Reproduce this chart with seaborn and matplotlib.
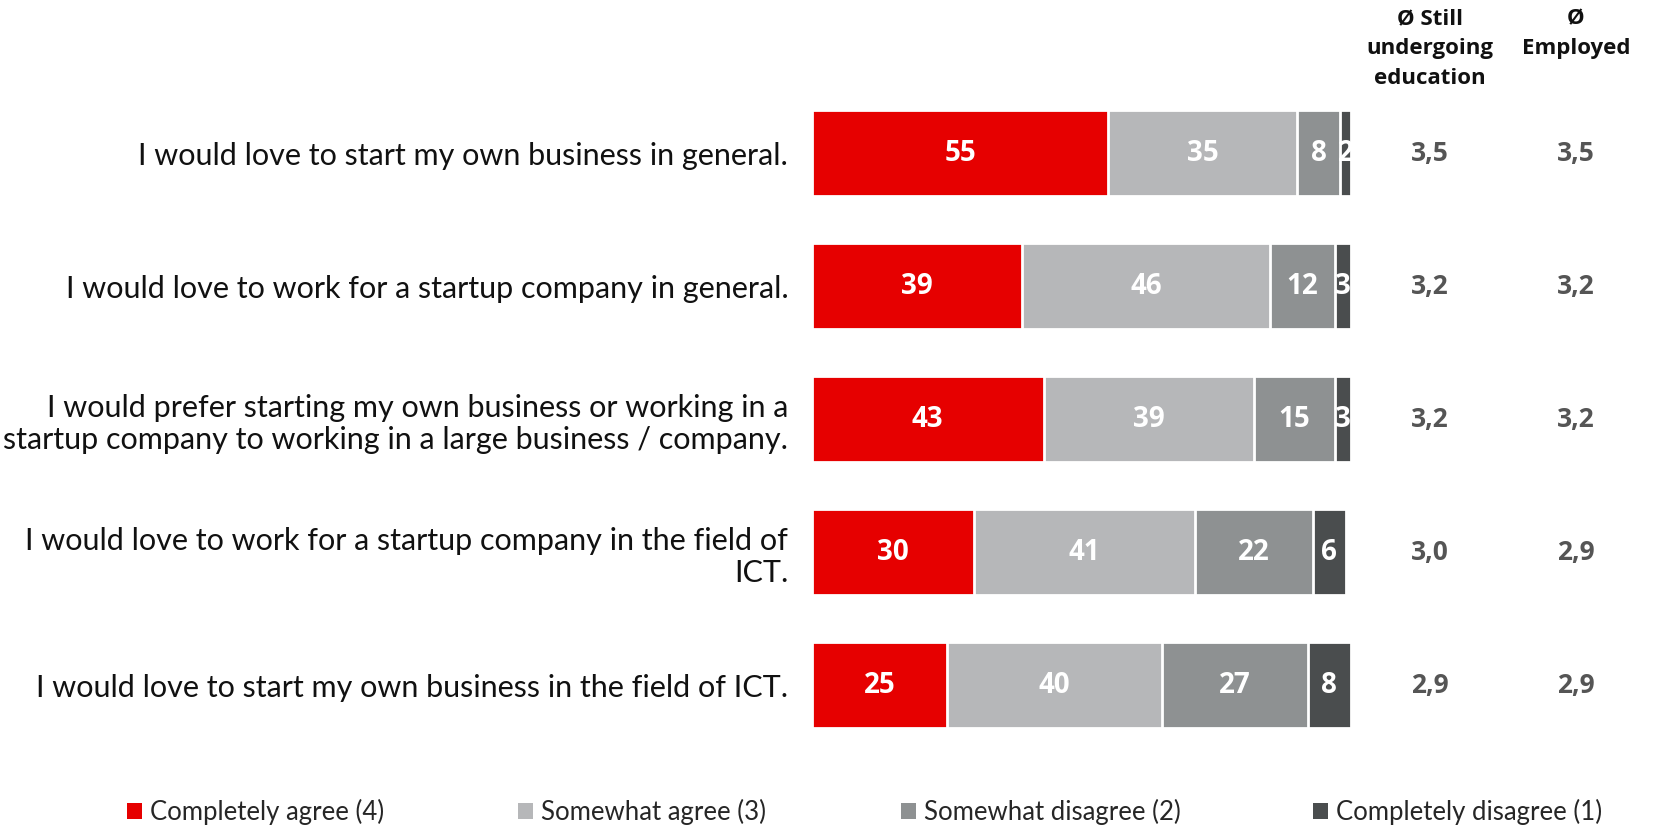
import numpy as np
import pandas as pd
import matplotlib
matplotlib.use("Agg")
import matplotlib.pyplot as plt
import matplotlib.transforms as mtransforms
from matplotlib import font_manager
from matplotlib.patches import Patch
import seaborn as sns

# ---- data ----
statements = [
    "I would love to start my own business in general.",
    "I would love to work for a startup company in general.",
    "I would prefer starting my own business or working in a\nstartup company to working in a large business / company.",
    "I would love to work for a startup company in the field of\nICT.",
    "I would love to start my own business in the field of ICT.",
]
categories = ["Completely agree (4)", "Somewhat agree (3)",
              "Somewhat disagree (2)", "Completely disagree (1)"]
completely_agree = [55, 39, 43, 30, 25]
somewhat_agree = [35, 46, 39, 41, 40]
somewhat_disagree = [8, 12, 15, 22, 27]
completely_disagree = [2, 3, 3, 6, 8]
avg_education = ["3,5", "3,2", "3,2", "3,0", "2,9"]
avg_employed = ["3,5", "3,2", "3,2", "2,9", "2,9"]
col_headers = ["Ø Still\nundergoing\neducation", "Ø\nEmployed"]

colors = ["#e60000", "#b6b7b9", "#8e9192", "#4a4d4e"]

# pick a narrow-ish font that is actually installed
installed = {f.name for f in font_manager.fontManager.ttflist}
text_font = "Lato"
for cand in ["Liberation Sans Narrow", "Lato", "Roboto"]:
    if cand in installed:
        text_font = cand
        break
bold_font = ["Open Sans", "DejaVu Sans"]

sns.set_theme(style="white")
plt.rcParams["font.family"] = [text_font, "DejaVu Sans"]

df = pd.DataFrame({
    "statement": statements,
    categories[0]: completely_agree,
    categories[1]: somewhat_agree,
    categories[2]: somewhat_disagree,
    categories[3]: completely_disagree,
})
series = [completely_agree, somewhat_agree, somewhat_disagree, completely_disagree]
cum = np.cumsum(np.array(series), axis=0)

fig = plt.figure(figsize=(16.58, 8.27), dpi=100)
ax = fig.add_axes([0.4897, 0.0913, 0.3251, 0.804])

# draw cumulative totals back to front so segments stack
for i in range(3, -1, -1):
    sns.barplot(x=cum[i], y=df["statement"], color=colors[i], orient="h",
                width=0.65, edgecolor="white", linewidth=2, ax=ax,
                saturation=1)

# segment value labels
for i, vals in enumerate(series):
    starts = cum[i] - np.array(vals)
    for r, v in enumerate(vals):
        ax.text(starts[r] + v / 2, r, str(v), ha="center", va="center",
                color="white", fontsize=20, fontweight="bold",
                family=bold_font)

ax.set_xlim(0, 100)
ax.set_ylim(4.5, -0.5)
ax.set_xlabel("")
ax.set_ylabel("")
ax.set_xticks([])
ax.tick_params(axis="y", length=0, pad=17, labelsize=22, labelcolor="#111111")
for s in ax.spines.values():
    s.set_visible(False)

# average columns
trans = mtransforms.blended_transform_factory(fig.transFigure, ax.transData)
for r in range(len(statements)):
    ax.text(0.8625, r, avg_education[r], transform=trans, ha="center",
            va="center", fontsize=19, fontweight="bold", color="#555555",
            family=bold_font)
    ax.text(0.9505, r, avg_employed[r], transform=trans, ha="center",
            va="center", fontsize=19, fontweight="bold", color="#555555",
            family=bold_font)

for xf, head in zip([0.8625, 0.9505], col_headers):
    fig.text(xf, 0.99, head, ha="center", va="top", fontsize=16,
             fontweight="bold", color="#111111", linespacing=1.55,
             family=bold_font)

# legend: one entry per position, as in the original layout
legend_x = [0.0766, 0.3124, 0.5434, 0.7919]
for c, lab, lx in zip(colors, categories, legend_x):
    leg = fig.legend([Patch(facecolor=c, edgecolor="none")], [lab],
                     loc="center left", bbox_to_anchor=(lx, 0.018),
                     frameon=False, fontsize=18.5, handlelength=0.6,
                     handleheight=0.6, handletextpad=0.3,
                     borderaxespad=0, borderpad=0)

fig.savefig("out.png", dpi=100)
